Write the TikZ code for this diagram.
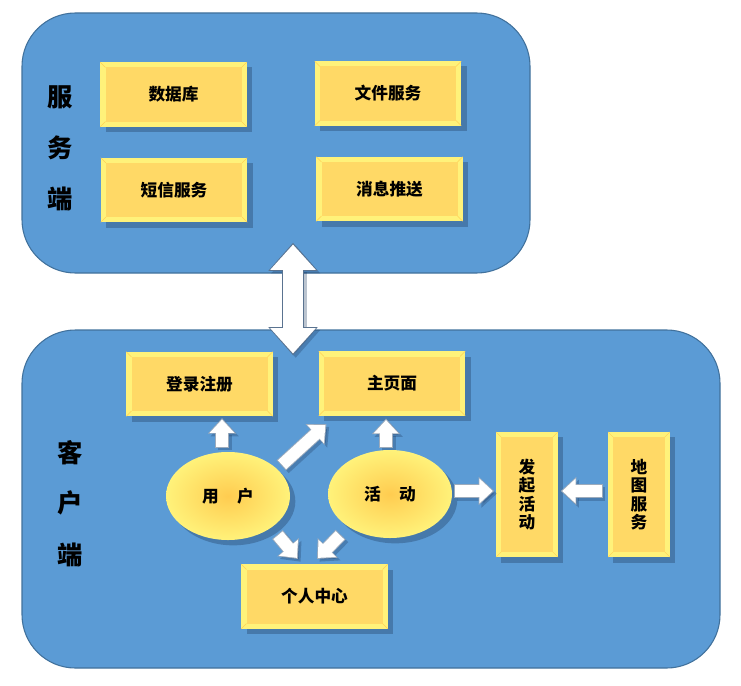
\documentclass[tikz,border=0pt]{standalone}
\usepackage{fontspec}
\newfontfamily\cjk{Noto Sans CJK SC}
\usetikzlibrary{shadows,arrows.meta,shapes.geometric}
\definecolor{panelblue}{HTML}{5B9BD5}
\definecolor{panelline}{HTML}{41719C}
\definecolor{bevel}{HTML}{FFF27A}
\definecolor{gold}{HTML}{FFD966}
\definecolor{ellin}{HTML}{FFCC50}
\definecolor{ellout}{HTML}{FFF27A}
\definecolor{shade}{HTML}{1F3A5F}
\definecolor{arrline}{HTML}{5A7390}
% #1 arrow style, #2 outline style, #3 from, #4 to
\newcommand\barrow[4]{%
  \draw[#2,draw=shade,opacity=0.3,transform canvas={shift={(2pt,-2pt)}}] #3 -- #4;
  \draw[#2] #3 -- #4;
  \draw[#1] #3 -- #4;}
\begin{document}
\begin{tikzpicture}[x=0.75pt,y=-0.75pt,
  panel/.style={draw=panelline, line width=0.8pt, fill=panelblue, rounded corners=40pt, inner sep=0pt},
  ybox/.style={fill=bevel, inner sep=0pt, minimum width=110pt, minimum height=48.5pt,
    font=\cjk\bfseries\fontsize{12.5}{13.8}\selectfont, align=center,
    drop shadow={shadow xshift=4pt,shadow yshift=-4pt,opacity=0.35,fill=shade},
    path picture={
      \fill[gold] ([shift={(4pt,4pt)}]path picture bounding box.south west) rectangle ([shift={(-4pt,-4pt)}]path picture bounding box.north east);
      \draw[bevel!70!orange, line width=0.3pt] (path picture bounding box.south west) -- ++(4pt,4pt)
        (path picture bounding box.north east) -- ++(-4pt,-4pt)
        (path picture bounding box.north west) -- ++(4pt,-4pt)
        (path picture bounding box.south east) -- ++(-4pt,4pt);
    }},
  vbox/.style={ybox, minimum width=46.5pt, minimum height=94pt},
  yell/.style={ellipse, inner sep=0pt, minimum width=93pt, minimum height=66pt,
    inner color=ellin, outer color=ellout,
    font=\cjk\bfseries\fontsize{12.5}{13.8}\selectfont,
    drop shadow={shadow xshift=4pt,shadow yshift=-4pt,opacity=0.35,fill=shade}},
  side/.style={font=\cjk\bfseries\fontsize{19}{21}\selectfont, inner sep=0pt},
  blk/.style={draw=white, line width=9pt, -{Triangle[length=10pt,width=18pt]}},
  blkol/.style={draw=arrline!60!white, line width=10.4pt, -{Triangle[length=11.6pt,width=20.4pt]},
    shorten >=-1.1pt, shorten <=-0.7pt},
  dbl/.style={draw=white, line width=15pt, {Triangle[length=19pt,width=33pt]}-{Triangle[length=19pt,width=33pt]}},
  dblol/.style={draw=arrline, line width=16.6pt, {Triangle[length=21pt,width=35.6pt]}-{Triangle[length=21pt,width=35.6pt]},
    shorten >=-1.3pt, shorten <=-1.3pt}
]
\useasboundingbox (0,0) rectangle (741,685);

% panels
\node[panel, minimum width=381pt, minimum height=195pt] (server) at (276,143) {};
\node[panel, minimum width=523.5pt, minimum height=253.5pt] (client) at (371,499) {};

% server side
\node[side] (s1) at (60,97) {服};
\node[side] (s2) at (60,148) {务};
\node[side] (s3) at (60,199) {端};
\node[ybox] (db) at (173.5,94.5) {数据库};
\node[ybox] (file) at (388,93.5) {文件服务};
\node[ybox] (sms) at (174,190) {短信服务};
\node[ybox] (push) at (389.5,189) {消息推送};

% client side
\node[side] (c1) at (70,453) {客};
\node[side] (c2) at (70,503) {户};
\node[side] (c3) at (70,555) {端};
\node[ybox] (login) at (199.5,384) {登录注册};
\node[ybox] (home) at (392,383.5) {主页面};
\node[yell] (user) at (228,496) {用\hspace{1.1em}户};
\node[yell] (act) at (390,494) {活\hspace{1.1em}动};
\node[vbox] (launch) at (527,494.5) {发\\起\\活\\动};
\node[vbox] (map) at (639,494.5) {地\\图\\服\\务};
\node[ybox] (center) at (314.5,596.5) {个人中心};

% arrows
\barrow{dbl}{dblol}{([shift={(17,-29)}]server.south)}{([shift={(-78,24)}]client.north)}
\barrow{blk}{blkol}{([shift={(-6,-5)}]user.north)}{([shift={(22.5,3)}]login.south)}
\barrow{blk}{blkol}{([shift={(10,0)}]user.north east)}{([shift={(7,9)}]home.south west)}
\barrow{blk}{blkol}{([shift={(-4,-3)}]act.north)}{([shift={(-6,4)}]home.south)}
\barrow{blk}{blkol}{([shift={(6,8)}]user.south east)}{([shift={(-17.5,-6)}]center.north)}
\barrow{blk}{blkol}{([shift={(-6,10)}]act.south west)}{([shift={(3.5,-6)}]center.north)}
\barrow{blk}{blkol}{([shift={(3,-3)}]act.east)}{([shift={(-3,-3.5)}]launch.west)}
\barrow{blk}{blkol}{([shift={(-6,-3.5)}]map.west)}{([shift={(4,-3.5)}]launch.east)}
\end{tikzpicture}
\end{document}
